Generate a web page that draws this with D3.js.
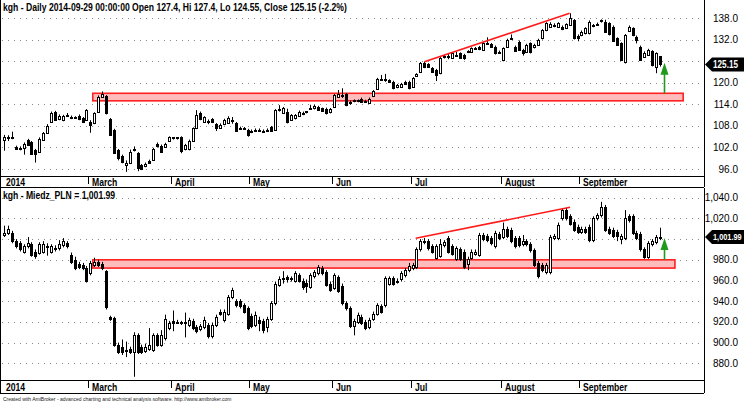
<!DOCTYPE html>
<html><head><meta charset="utf-8">
<script src="https://cdn.jsdelivr.net/npm/d3@7"></script>
<style>body{margin:0;background:#fff}svg{display:block}</style>
</head><body>
<svg id="c" width="744" height="403"></svg>
<script>
// ---------- DATA ----------
const topTitle = "kgh - Daily 2014-09-29 00:00:00 Open 127.4, Hi 127.4, Lo 124.55, Close 125.15 (-2.2%)";
const botTitle = "kgh - Miedz_PLN = 1,001.99";
const footer = "Created with AmiBroker - advanced charting and technical analysis software. http://www.amibroker.com";
const monthLabels = ["2014","March","April","May","Jun","Jul","August","September"];
const monthStart = [0,22,43,63,84,104,127,147];
const topTicks = [96,102,108,114,120,126,132,138];
const botTicks = [880,900,920,940,960,980,1000,1020,1040];

const topO = [104.1,104.7,104.9,102.2,101.9,101.8,104.0,103.5,101.3,100.8,
104.1,106.1,109.2,111.8,109.9,109.6,110.9,110.6,110.3,110.9,
110.1,109.7,109.2,108.7,111.8,116.2,116.3,109.9,106.9,101.3,
99.6,97.2,97.8,101.2,100.4,97.1,96.8,98.2,98.5,103.0,
102.5,102.2,103.9,104.8,104.8,104.8,101.5,101.5,103.9,107.3,
111.5,109.2,109.0,109.9,108.5,107.5,108.5,108.9,109.7,108.8,
107.2,107.4,106.9,106.7,106.6,107.0,106.5,106.6,107.7,106.9,
112.5,111.7,112.0,109.7,110.1,110.8,111.4,112.0,112.8,112.9,
113.3,112.9,112.8,111.8,113.4,116.2,116.5,116.9,114.8,114.9,
115.1,115.6,114.9,114.5,116.3,118.2,120.9,121.0,120.7,120.3,
118.8,118.9,120.3,120.3,118.8,122.0,123.1,125.5,125.2,124.1,
123.6,122.7,127.2,127.4,127.0,127.7,128.2,127.8,128.6,128.7,
129.5,130.0,129.3,130.9,130.8,130.1,128.5,126.4,130.1,132.3,
130.1,131.5,129.2,128.7,131.0,129.9,130.6,132.4,134.7,135.6,
135.9,135.7,135.7,135.3,136.1,137.5,133.2,133.3,133.8,133.8,
135.8,136.2,137.4,137.1,136.6,135.7,132.4,131.0,125.7,134.5,
135.2,132.9,130.1,127.3,127.8,128.8,124.5,127.4];
const topH = [105.5,105.4,106.4,102.5,102.3,103.4,104.4,103.8,101.6,104.8,
106.3,108.5,112.0,112.2,111.2,111.1,111.6,110.9,110.7,111.2,
110.5,112.7,109.6,111.8,116.5,117.6,116.6,110.2,107.2,101.6,
100.0,98.4,101.4,102.3,100.7,97.4,97.8,98.6,101.9,103.4,
102.8,103.3,105.1,104.9,104.9,105.1,103.0,104.2,107.6,112.4,
112.0,110.7,109.8,110.2,108.8,108.7,110.0,110.7,110.5,109.1,
107.8,107.7,107.2,107.0,107.3,107.3,107.0,107.3,108.0,112.7,
113.8,113.3,112.8,111.3,111.3,112.3,112.0,112.1,113.9,113.9,
113.6,113.1,113.1,113.0,116.9,118.0,118.5,117.2,115.1,115.4,
115.4,115.9,115.3,115.9,118.0,121.4,122.2,122.5,121.0,120.6,
119.7,120.0,120.6,120.6,121.6,122.7,125.8,125.9,125.5,124.4,
123.9,127.2,127.8,128.0,128.5,128.6,128.5,128.1,129.1,129.9,
130.0,130.3,131.3,132.7,131.1,130.4,129.0,129.9,132.3,133.5,
130.4,131.8,129.5,130.9,131.3,130.9,132.3,135.0,136.9,136.9,
136.6,136.9,136.0,136.6,139.4,137.8,133.5,134.6,135.5,137.4,
136.4,136.8,137.7,137.6,136.9,136.0,132.7,131.3,133.6,136.0,
135.5,133.2,130.4,128.8,129.5,129.1,128.5,127.4];
const topL = [101.1,103.8,104.3,101.3,101.2,100.0,102.5,100.0,97.8,100.6,
103.9,105.9,109.0,109.4,109.6,109.3,110.6,109.9,110.0,109.6,
108.8,109.4,106.1,108.5,111.6,115.9,111.2,105.2,100.2,98.4,
97.6,95.2,97.5,100.9,95.4,95.7,96.5,97.4,98.3,102.0,
100.5,102.0,103.7,104.2,104.2,100.4,101.2,101.2,103.7,107.1,
109.6,109.0,108.5,108.8,106.6,107.2,108.2,108.6,108.6,106.4,
106.9,106.9,105.0,106.0,106.3,106.3,106.2,106.3,106.3,106.7,
112.0,111.4,108.7,109.4,109.8,110.5,111.0,111.5,112.5,112.6,
112.2,111.9,111.2,111.5,113.2,116.0,115.8,113.5,113.9,114.6,
114.6,114.5,114.5,114.2,116.1,118.0,120.6,120.3,120.0,118.2,
118.5,118.6,119.5,118.2,118.6,121.8,122.9,124.1,124.2,122.8,
120.5,122.4,126.8,126.6,126.7,127.4,126.7,126.4,128.3,128.4,
129.2,129.1,129.0,130.6,129.8,127.9,128.2,126.0,129.8,132.0,
128.7,128.9,127.6,128.4,128.2,129.6,130.3,132.1,134.4,135.3,
135.5,135.4,134.7,135.0,135.9,132.1,131.6,133.0,133.5,133.5,
135.5,135.9,136.8,134.0,133.2,131.5,130.3,126.1,125.4,134.2,
133.0,131.0,126.1,127.0,127.5,124.6,122.7,124.55];
const topC = [105.0,104.9,104.7,101.7,101.7,103.1,102.8,100.2,100.3,104.5,
106.0,108.1,111.5,109.7,110.9,110.8,111.0,110.1,110.4,109.9,
109.1,112.4,108.3,111.5,116.2,116.9,111.5,105.5,100.5,99.1,
98.0,97.8,100.8,101.5,96.3,96.0,97.4,97.7,101.6,102.3,
100.8,103.0,104.8,104.9,104.9,101.1,102.7,103.9,107.3,111.1,
109.9,110.4,109.4,109.1,107.3,108.4,109.7,110.2,109.6,106.7,
107.4,107.3,105.5,106.3,107.0,106.6,106.7,107.0,106.6,112.4,
112.7,113.0,109.0,111.0,111.0,112.0,111.6,112.1,113.0,113.6,
112.5,112.2,111.5,112.7,116.6,116.9,116.7,113.8,114.3,115.1,
114.9,114.8,115.0,115.6,117.7,121.1,121.1,121.2,120.3,118.5,
119.4,119.7,119.8,118.5,121.3,122.4,125.5,124.4,124.5,123.1,
122.2,126.9,127.4,127.3,128.2,127.9,127.0,127.0,128.8,129.6,
129.7,129.4,131.0,131.1,130.1,128.2,128.7,129.6,132.0,132.5,
129.0,129.2,128.3,130.6,128.5,130.6,132.0,134.7,136.6,136.4,
136.1,136.6,135.0,136.3,138.0,132.4,132.4,134.2,135.2,137.1,
136.0,136.4,137.5,134.3,133.5,131.8,130.6,126.4,133.3,135.7,
133.3,132.0,126.4,128.2,129.2,124.9,128.2,125.15];

const botO = [1004,1006,1006,998,996,988,993,995,988,987,
988,993,988,990,991,994,996,985,980,976,
975,972,967,975,978,976,969,925,924,898,
896,893,894,891,907,896,892,894,893,907,
898,904,914,921,920,920,920,917,921,915,
913,915,917,906,917,930,922,928,944,940,
940,936,933,926,917,922,921,915,923,938,
956,961,963,962,960,965,960,958,954,964,
967,972,968,957,953,963,955,938,933,916,
920,925,920,915,923,928,935,936,957,962,
959,961,965,970,972,973,990,997,998,993,
982,984,994,1001,993,981,990,988,976,982,
986,985,1004,1003,1001,993,1005,1002,1010,1009,
1001,1001,995,998,995,989,977,975,968,968,
1001,1001,1020,1028,1022,1017,1012,1007,1010,1012,
999,1020,1023,1031,1010,1009,1007,1000,1001,1022,
1022,1006,1005,990,983,995,997,1001];
const botH = [1013,1013,1008,1000,998,995,1002,997,990,997,
998,996,995,994,999,1001,998,987,983,978,
977,974,979,982,980,978,970,926,925,900,
903,901,896,910,909,898,899,914,909,909,
912,927,921,931,922,921,929,924,923,917,
918,925,919,919,927,932,932,946,953,942,
942,938,935,928,930,925,923,925,940,959,
964,969,965,964,969,967,962,961,967,970,
975,974,970,959,967,965,957,940,935,923,
929,927,922,924,930,938,937,964,964,964,
962,969,972,977,977,992,1000,1001,1000,995,
995,1000,999,1003,995,993,992,990,983,990,
990,1006,1006,1005,1003,1008,1007,1016,1012,1011,
1003,1003,1004,1000,997,991,979,977,977,1004,
1005,1016,1030,1030,1024,1019,1014,1012,1012,1014,
1022,1025,1036,1033,1012,1011,1009,1005,1028,1024,
1024,1008,1007,992,998,1000,1004,1011];
const botL = [1002,1004,996,991,988,986,991,983,981,985,
986,984,986,988,989,992,991,976,970,971,
970,958,965,973,973,970,932,921,896,889,
888,886,889,867,889,889,890,892,891,896,
896,902,912,911,918,917,905,915,912,909,
911,913,904,904,915,926,920,926,942,934,
933,928,912,914,915,911,909,910,921,936,
954,957,958,959,958,958,951,948,952,962,
965,965,954,949,951,948,936,931,914,907,
918,917,912,913,921,926,928,934,955,955,
957,959,963,968,970,971,988,995,989,986,
980,982,992,986,984,979,979,971,970,980,
984,983,998,997,994,991,999,1000,1001,996,
991,992,993,993,987,973,962,968,966,966,
999,999,1018,1018,1013,1007,1005,1005,1005,997,
997,1018,1021,1007,1004,1001,998,995,999,1016,
1004,999,988,981,981,993,995,999];
const botC = [1006,1010,998,993,990,993,996,985,984,995,
995,992,993,991,995,998,993,978,972,973,
972,960,977,978,975,972,934,923,898,891,
891,892,891,907,891,891,896,898,907,898,
907,923,919,919,920,919,919,922,914,911,
916,922,906,917,925,928,930,944,951,936,
935,930,914,916,927,919,912,923,938,957,
961,962,961,962,967,960,954,955,965,968,
973,967,956,951,965,950,938,933,916,921,
927,919,914,922,928,936,930,962,962,957,
960,967,970,974,975,990,998,998,991,988,
993,995,997,988,986,991,981,973,981,988,
988,1004,1000,999,996,1006,1001,1010,1003,998,
993,994,998,995,989,975,964,970,975,1002,
1003,1014,1028,1020,1015,1009,1007,1010,1007,999,
1020,1023,1031,1009,1006,1003,1003,1003,1020,1018,
1006,1001,990,983,996,998,1002,1001.99];

// support bands [fromIndex, toIndex, low, high]
const topBand = [22.6, 172.9, 115.0, 117.1];
const botBand = [22.6, 170.8, 972, 980];
// trend lines [i1, p1, i2, p2]
const topTrend = [107, 125.9, 144, 139.4];
const botTrend = [104.8, 1000.8, 144.1, 1030.7];
// green arrows [index, from, to]
const topArrow = [168, 117.1, 125.6];
const botArrow = [168, 980, 1001];
const topLast = 125.15, botLast = 1001.99;

// ---------- DRAW ----------
const svg = d3.select("#c");
const N = topO.length;
const x = d3.scaleLinear().domain([0, N-1]).range([4, 660]);
const AX = 704;
const FONT = "'Liberation Sans',Arial,sans-serif";
const SQ = 0.82; // horizontal squeeze to imitate a narrow bold face

function narrowText(g, tx, ty, str, size, fill) {
  return g.append("text").attr("transform",`translate(${tx},${ty}) scale(${SQ},1)`)
    .attr("font-family",FONT).attr("font-weight","bold").attr("font-size",size)
    .attr("fill",fill||"#000").text(str);
}

const panels = [
  {O:topO,H:topH,L:topL,C:topC, y:d3.scaleLinear().domain([96,138]).range([169,18.3]),
   ticks:topTicks, fmt:d3.format(".1f"), title:topTitle, titleY:11,
   stripTop:176, stripBot:187, labelY:186, axTop:0, band:topBand, trend:topTrend, arrow:topArrow,
   last:topLast, lastText:d3.format(".2f")(topLast), lastSize:10},
  {O:botO,H:botH,L:botL,C:botC, y:d3.scaleLinear().domain([880,1040]).range([363.3,197.7]),
   ticks:botTicks, fmt:d3.format(",.1f"), title:botTitle, titleY:199,
   stripTop:380, stripBot:393, labelY:390.5, axTop:188, band:botBand, trend:botTrend, arrow:botArrow,
   last:botLast, lastText:d3.format(",.2f")(botLast), lastSize:9}
];

// left border
svg.append("line").attr("x1",0.5).attr("x2",0.5).attr("y1",0).attr("y2",393).attr("stroke","#000");

panels.forEach(p => {
  const g = svg.append("g");
  const y = p.y;
  const ly = y(p.last);
  // grid
  g.selectAll(".grid").data(p.ticks).join("line")
    .attr("x1",2).attr("x2",AX+4)
    .attr("y1",d=>Math.round(y(d))+0.5).attr("y2",d=>Math.round(y(d))+0.5)
    .attr("stroke","#8a8a8a").attr("stroke-dasharray","1,5");
  // axis labels (those hidden behind the last-value marker are not drawn)
  g.selectAll(".tl").data(p.ticks.filter(d=>Math.abs(y(d)-ly)>11)).join("text")
    .attr("x",738).attr("y",d=>y(d)+3.5).attr("text-anchor","end")
    .attr("font-family",FONT).attr("font-size",10).attr("fill","#000")
    .text(d=>p.fmt(d));
  // band
  const b = p.band;
  g.append("rect").attr("x",x(b[0])).attr("width",x(b[1])-x(b[0]))
    .attr("y",y(b[3])).attr("height",y(b[2])-y(b[3]))
    .attr("fill","#ffbcbc").attr("stroke","#ff2020").attr("stroke-width",1.6);
  // candles
  const idx = d3.range(N);
  g.selectAll(".wick").data(idx).join("line")
    .attr("x1",i=>Math.round(x(i))+0.5).attr("x2",i=>Math.round(x(i))+0.5)
    .attr("y1",i=>y(Math.max(p.H[i],p.O[i],p.C[i])))
    .attr("y2",i=>y(Math.min(p.L[i],p.O[i],p.C[i])))
    .attr("stroke","#000").attr("stroke-width",1);
  g.selectAll(".body").data(idx).join("rect")
    .attr("x",i=>Math.round(x(i))-0.5).attr("width",2)
    .attr("y",i=>Math.round(y(Math.max(p.O[i],p.C[i])))+0.5)
    .attr("height",i=>Math.max(1,Math.round(y(Math.min(p.O[i],p.C[i])))-Math.round(y(Math.max(p.O[i],p.C[i])))))
    .attr("fill",i=>p.C[i]>=p.O[i]?"#fff":"#000").attr("stroke","#000").attr("stroke-width",1);
  // trend line
  const t = p.trend;
  g.append("line").attr("x1",x(t[0])).attr("y1",y(t[1])).attr("x2",x(t[2])).attr("y2",y(t[3]))
    .attr("stroke","#ff1a1a").attr("stroke-width",1.6);
  // green arrow
  const a = p.arrow, ax = Math.round(x(a[0]))+0.5, tipY = y(a[2]);
  g.append("line").attr("x1",ax).attr("x2",ax).attr("y1",y(a[1])).attr("y2",tipY+10)
    .attr("stroke","#1f9a1f").attr("stroke-width",1.6);
  g.append("path").attr("d",`M${ax},${tipY} L${ax-4},${tipY+12} L${ax+4},${tipY+12} Z`).attr("fill","#1f9a1f");
  // right axis line
  g.append("line").attr("x1",AX+0.5).attr("x2",AX+0.5).attr("y1",p.axTop).attr("y2",p.stripBot)
    .attr("stroke","#000");
  // date strip
  g.append("line").attr("x1",0).attr("x2",AX).attr("y1",p.stripTop+0.5).attr("y2",p.stripTop+0.5).attr("stroke","#000");
  g.append("line").attr("x1",0).attr("x2",AX).attr("y1",p.stripBot+0.5).attr("y2",p.stripBot+0.5).attr("stroke","#000");
  g.selectAll(".mt").data(monthStart.slice(1)).join("line")
    .attr("x1",i=>Math.round(x(i))-1.5).attr("x2",i=>Math.round(x(i))-1.5)
    .attr("y1",p.stripTop).attr("y2",p.stripTop+8).attr("stroke","#000");
  monthStart.forEach((i,k)=>{
    narrowText(g, k===0?6:Math.round(x(i))+2, p.labelY, monthLabels[k], 10.5);
  });
  // title
  narrowText(g, 3, p.titleY, p.title, 10.5);
  // last value label
  g.append("path").attr("d",`M${AX+1},${ly} L${AX+8},${ly-7} L744,${ly-7} L744,${ly+7} L${AX+8},${ly+7} Z`)
    .attr("fill","#000");
  narrowText(g, 713, ly+3.3, p.lastText, p.lastSize, "#fff");
});

svg.append("text").attr("x",3).attr("y",401).attr("font-family",FONT).attr("font-size",5)
  .attr("fill","#222").text(footer);
</script>
</body></html>
